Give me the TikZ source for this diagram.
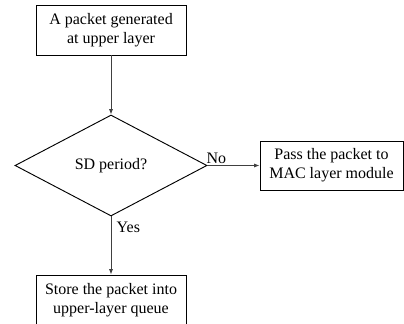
\documentclass[tikz,border=0pt]{standalone}
\usepackage{fontspec}
\setmainfont{Liberation Serif}
\usetikzlibrary{shapes.geometric,arrows.meta}
\tikzstyle{blk}=[rectangle,draw=black,line width=0.7pt,minimum width=112.5pt,minimum height=37.5pt,inner sep=0pt,align=center,font=\fontsize{12}{14}\selectfont]
\tikzstyle{dec}=[diamond,draw=black,line width=0.7pt,minimum width=144pt,minimum height=75.75pt,inner sep=0pt,font=\fontsize{12}{14}\selectfont]
\tikzstyle{arr}=[-{Latex[length=4pt,width=3pt]},draw=black!75,line width=0.6pt]
\tikzstyle{lbl}=[font=\fontsize{12}{14}\selectfont,inner sep=1pt]

\begin{document}
\begin{tikzpicture}[x=0.75pt,y=-0.75pt]
\useasboundingbox (0,0) rectangle (404,324);
\clip (0,0) rectangle (404,324);
\node[blk] (gen) at (111,30) {A packet generated\\at upper layer};
\node[dec] (sd) at (111,165.5) {SD period?};
\node[blk,minimum width=107.25pt,minimum height=36.75pt] (pass) at (331.5,165.5) {Pass the packet to\\MAC layer module};
\node[blk] (store) at (111,300) {Store the packet into\\upper-layer queue};
\draw[arr] (gen) -- (sd);
\draw[arr] (sd) -- node[lbl,pos=0,anchor=south west,xshift=-2pt]{No} (pass);
\draw[arr] (sd) -- node[lbl,pos=0.19,anchor=west,xshift=3pt]{Yes} (store);
\end{tikzpicture}
\end{document}
